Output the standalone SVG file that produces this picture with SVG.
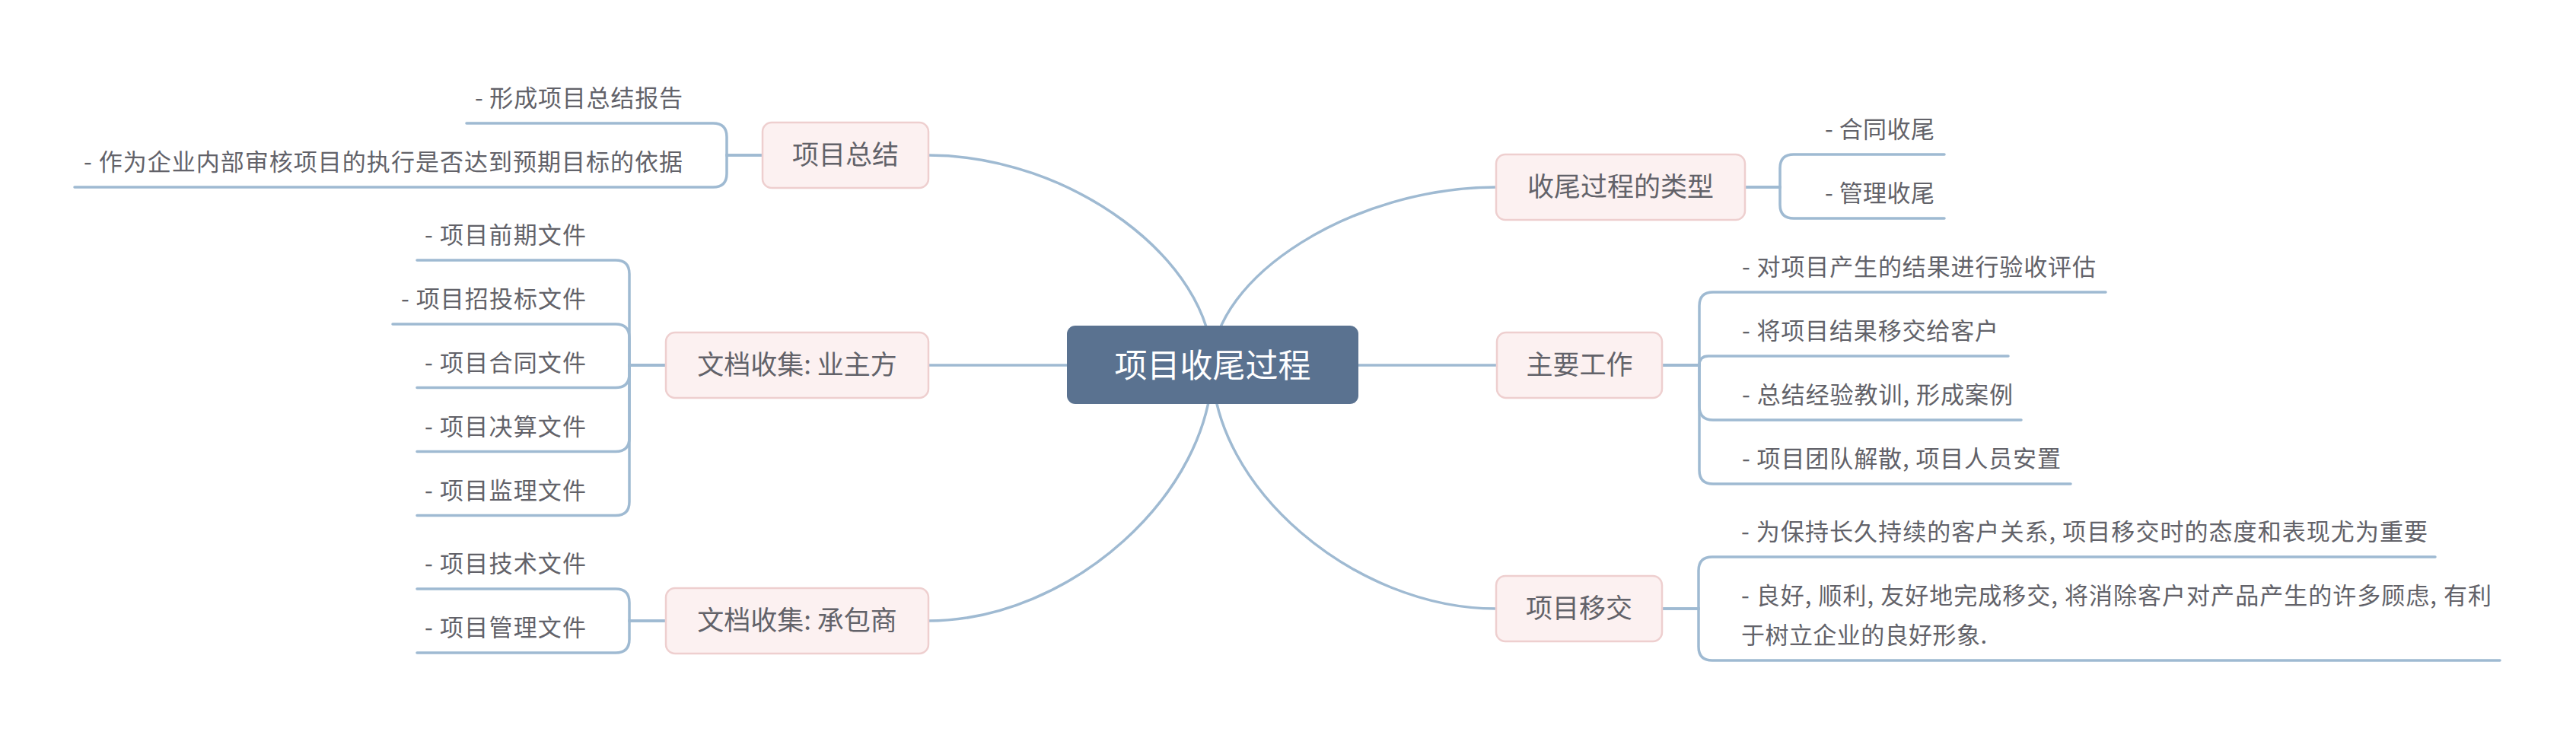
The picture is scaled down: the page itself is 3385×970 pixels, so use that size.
<svg xmlns="http://www.w3.org/2000/svg" width="3385" height="970" viewBox="0 0 3385 970">
<style>
.bg{fill:#ffffff}
.link{fill:none;stroke:#9fbad2;stroke-width:3.5;stroke-linecap:round}
.main{fill:#fcf1f1;stroke:#eecfcf;stroke-width:2.5}
.root{fill:#5a7290}
.t{font-family:"Noto Sans CJK SC","Noto Sans",sans-serif;fill:#626269}
.rt{font-family:"Noto Sans CJK SC","Noto Sans",sans-serif;fill:#ffffff;font-size:43px}
.mt{font-size:35px}
.st{font-size:31px}
</style>
<rect class="bg" x="0" y="0" width="3385" height="970"/>
<g id="connectors">
  <path class="link" d="M1593 480 C1593 342 1406.5 204 1220 204"/>
  <path class="link" d="M1593 480 H1220"/>
  <path class="link" d="M1593 480 C1593 648 1406.5 816 1220 816"/>
  <path class="link" d="M1593 480 C1593 363 1779.5 246 1966 246"/>
  <path class="link" d="M1593 480 H1966"/>
  <path class="link" d="M1593 480 C1593 640 1779.5 800 1966 800"/>
  <path class="link" d="M1002 204 H955 V180 Q955 162 937 162 H613"/>
  <path class="link" d="M1002 204 H955 V228 Q955 246 937 246 H98"/>
  <path class="link" d="M875 480 H827 V360 Q827 342 809 342 H548"/>
  <path class="link" d="M875 480 H827 V444 Q827 426 809 426 H516"/>
  <path class="link" d="M875 480 H827 V491.5 Q827 509.5 809 509.5 H548"/>
  <path class="link" d="M875 480 H827 V575.5 Q827 593.5 809 593.5 H548"/>
  <path class="link" d="M875 480 H827 V659.5 Q827 677.5 809 677.5 H548"/>
  <path class="link" d="M875 816 H827 V792 Q827 774 809 774 H548"/>
  <path class="link" d="M875 816 H827 V840 Q827 858 809 858 H548"/>
  <path class="link" d="M2293 246 H2339 V221 Q2339 203 2357 203 H2555"/>
  <path class="link" d="M2293 246 H2339 V269 Q2339 287 2357 287 H2555"/>
  <path class="link" d="M2184 480 H2233 V402 Q2233 384 2251 384 H2767"/>
  <path class="link" d="M2184 480 H2233 Q2233 468 2245 468 H2639"/>
  <path class="link" d="M2184 480 H2233 V534 Q2233 552 2251 552 H2656"/>
  <path class="link" d="M2184 480 H2233 V618 Q2233 636 2251 636 H2721"/>
  <path class="link" d="M2184 800 H2232 V750 Q2232 732 2250 732 H3200"/>
  <path class="link" d="M2184 800 H2232 V850 Q2232 868 2250 868 H3285"/>
</g>
<g id="root">
  <rect class="root" x="1402" y="428" width="383" height="103" rx="11"/>
  <text class="rt" x="1593.5" y="496" text-anchor="middle">项目收尾过程</text>
</g>
<g id="topic-summary">
  <rect class="main" x="1002" y="161" width="218" height="86" rx="12"/>
  <text class="t mt" x="1111" y="216" text-anchor="middle">项目总结</text>
</g>
<g id="topic-owner-docs">
  <rect class="main" x="875" y="437" width="345" height="86" rx="12"/>
  <text class="t mt" x="1047.5" y="492" text-anchor="middle">文档收集: 业主方</text>
</g>
<g id="topic-contractor-docs">
  <rect class="main" x="875" y="773" width="345" height="86" rx="12"/>
  <text class="t mt" x="1047.5" y="828" text-anchor="middle">文档收集: 承包商</text>
</g>
<g id="topic-types">
  <rect class="main" x="1966" y="203" width="327" height="86" rx="12"/>
  <text class="t mt" x="2129.5" y="258" text-anchor="middle">收尾过程的类型</text>
</g>
<g id="topic-work">
  <rect class="main" x="1967" y="437" width="217" height="86" rx="12"/>
  <text class="t mt" x="2075.5" y="492" text-anchor="middle">主要工作</text>
</g>
<g id="topic-handover">
  <rect class="main" x="1966" y="757" width="218" height="86" rx="12"/>
  <text class="t mt" x="2075" y="812" text-anchor="middle">项目移交</text>
</g>
<g id="sub-summary-1"><text class="t st" x="897" y="140" text-anchor="end" textLength="273">- 形成项目总结报告</text></g>
<g id="sub-summary-2"><text class="t st" x="897" y="224" text-anchor="end" textLength="787">- 作为企业内部审核项目的执行是否达到预期目标的依据</text></g>
<g id="sub-owner-1"><text class="t st" x="770" y="320" text-anchor="end" textLength="212">- 项目前期文件</text></g>
<g id="sub-owner-2"><text class="t st" x="770" y="404" text-anchor="end" textLength="243">- 项目招投标文件</text></g>
<g id="sub-owner-3"><text class="t st" x="770" y="487.5" text-anchor="end" textLength="212">- 项目合同文件</text></g>
<g id="sub-owner-4"><text class="t st" x="770" y="571.5" text-anchor="end" textLength="212">- 项目决算文件</text></g>
<g id="sub-owner-5"><text class="t st" x="770" y="655.5" text-anchor="end" textLength="212">- 项目监理文件</text></g>
<g id="sub-contractor-1"><text class="t st" x="770" y="752" text-anchor="end" textLength="212">- 项目技术文件</text></g>
<g id="sub-contractor-2"><text class="t st" x="770" y="836" text-anchor="end" textLength="212">- 项目管理文件</text></g>
<g id="sub-types-1"><text class="t st" x="2398" y="181" textLength="144">- 合同收尾</text></g>
<g id="sub-types-2"><text class="t st" x="2398" y="265" textLength="144">- 管理收尾</text></g>
<g id="sub-work-1"><text class="t st" x="2289" y="362" textLength="465">- 对项目产生的结果进行验收评估</text></g>
<g id="sub-work-2"><text class="t st" x="2289" y="446" textLength="337">- 将项目结果移交给客户</text></g>
<g id="sub-work-3"><text class="t st" x="2289" y="530" textLength="356">- 总结经验教训, 形成案例</text></g>
<g id="sub-work-4"><text class="t st" x="2289" y="614" textLength="419">- 项目团队解散, 项目人员安置</text></g>
<g id="sub-handover-1"><text class="t st" x="2288" y="710" textLength="902">- 为保持长久持续的客户关系, 项目移交时的态度和表现尤为重要</text></g>
<g id="sub-handover-2">
  <text class="t st" x="2288" y="794" textLength="986">- 良好, 顺利, 友好地完成移交, 将消除客户对产品产生的许多顾虑, 有利</text>
  <text class="t st" x="2288" y="846" textLength="323">于树立企业的良好形象.</text>
</g>
</svg>
